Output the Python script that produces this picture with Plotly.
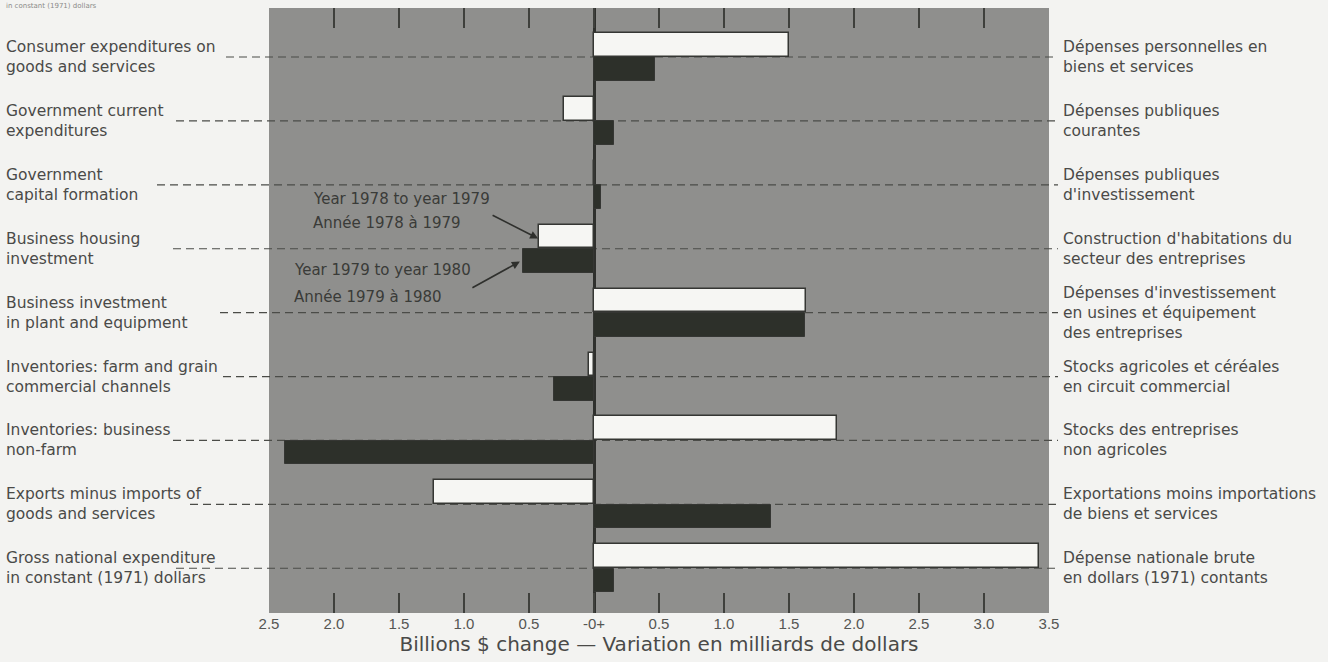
import plotly.graph_objects as go

# ---- data ----
categories_en = [
    "Consumer expenditures on<br>goods and services",
    "Government current<br>expenditures",
    "Government<br>capital formation",
    "Business housing<br>investment",
    "Business investment<br>in plant and equipment",
    "Inventories: farm and grain<br>commercial channels",
    "Inventories: business<br>non-farm",
    "Exports minus imports of<br>goods and services",
    "Gross national expenditure<br>in constant (1971) dollars",
]
categories_fr = [
    "Dépenses personnelles en<br>biens et services",
    "Dépenses publiques<br>courantes",
    "Dépenses publiques<br>d'investissement",
    "Construction d'habitations du<br>secteur des entreprises",
    "Dépenses d'investissement<br>en usines et équipement<br>des entreprises",
    "Stocks agricoles et céréales<br>en circuit commercial",
    "Stocks des entreprises<br>non agricoles",
    "Exportations moins importations<br>de biens et services",
    "Dépense nationale brute<br>en dollars (1971) contants",
]
change_1978_1979 = [1.50, -0.23, 0.01, -0.42, 1.63, -0.04, 1.87, -1.23, 3.42]
change_1979_1980 = [0.47, 0.15, 0.05, -0.55, 1.62, -0.31, -2.38, 1.36, 0.15]
series_names = ["Year 1978 to year 1979<br>Année 1978 à 1979",
                "Year 1979 to year 1980<br>Année 1979 à 1980"]
tick_vals = [-2.5, -2.0, -1.5, -1.0, -0.5, 0, 0.5, 1.0, 1.5, 2.0, 2.5, 3.0, 3.5]
tick_text = ["2.5", "2.0", "1.5", "1.0", "0.5", "-0+", "0.5", "1.0", "1.5", "2.0", "2.5", "3.0", "3.5"]

# ---- style / layout constants ----
W, H = 1328, 662
ML, MR, MT, MB = 269, 279, 8, 49
PW = W - ML - MR
PH = H - MT - MB
GRAY = "#8f8f8d"
DARK = "#2d302a"
WHITE = "#f6f6f3"
EDGE = "#353633"
TEXT = "#4a4a48"
PAGE = "#f3f3f1"
FONT = "DejaVu Sans"
SIDE_SIZE = 15.5
dash_start_px = [226, 176, 157, 173, 220, 223, 173, 190, 176]
dash_end_px = 1058

ycats = list(range(len(categories_en)))

fig = go.Figure()
fig.add_trace(go.Bar(
    y=ycats, x=change_1978_1979, orientation="h", name=series_names[0],
    width=0.37, offset=-0.375,
    marker=dict(color=WHITE, line=dict(color=EDGE, width=1.5)),
    showlegend=False, hoverinfo="x"))
fig.add_trace(go.Bar(
    y=ycats, x=change_1979_1980, orientation="h", name=series_names[1],
    width=0.37, offset=0.005,
    marker=dict(color=DARK, line=dict(color=EDGE, width=1.0)),
    showlegend=False, hoverinfo="x"))

shapes = []
annotations = []
for i, (en, fr) in enumerate(zip(categories_en, categories_fr)):
    x0 = (dash_start_px[i] - ML) / PW
    x1 = (dash_end_px - ML) / PW
    shapes.append(dict(type="line", xref="paper", yref="y", x0=x0, x1=x1, y0=i, y1=i,
                       line=dict(color="#4b4c48", width=1.2, dash="8px,5px"), layer="below"))
    annotations.append(dict(text=en, xref="paper", yref="y", x=(4 - ML) / PW, y=i,
                            xanchor="left", yanchor="middle", align="left", showarrow=False,
                            font=dict(family=FONT, size=SIDE_SIZE, color=TEXT)))
    annotations.append(dict(text=fr, xref="paper", yref="y", x=(1061 - ML) / PW, y=i,
                            xanchor="left", yanchor="middle", align="left", showarrow=False,
                            font=dict(family=FONT, size=SIDE_SIZE, color=TEXT)))

# in-plot series labels
for txt, xx, yy in [("Year 1978 to year 1979", -2.18, 2.22),
                    ("Année 1978 à 1979", -2.18, 2.60),
                    ("Year 1979 to year 1980", -2.32, 3.33),
                    ("Année 1979 à 1980", -2.32, 3.76)]:
    annotations.append(dict(text=txt, xref="x", yref="y", x=xx, y=yy, xanchor="left",
                            yanchor="middle", showarrow=False,
                            font=dict(family=FONT, size=15, color="#3a3b38")))
# arrows
annotations.append(dict(text="", xref="x", yref="y", x=-0.43, y=2.84, ax=-47, ay=-24,
                        showarrow=True, arrowhead=2, arrowsize=1, arrowwidth=1.6,
                        arrowcolor="#2f302d"))
annotations.append(dict(text="", xref="x", yref="y", x=-0.57, y=3.20, ax=-49, ay=27,
                        showarrow=True, arrowhead=2, arrowsize=1, arrowwidth=1.6,
                        arrowcolor="#2f302d"))
# heading fragment at top-left (mostly cropped in the reference)
annotations.append(dict(text="in constant (1971) dollars", xref="paper", yref="paper",
                        x=(4 - ML) / PW, y=1 + MT / PH, xanchor="left", yanchor="top",
                        showarrow=False, font=dict(family=FONT, size=7, color="#8a8a88")))

fig.update_layout(
    width=W, height=H,
    margin=dict(l=ML, r=MR, t=MT, b=MB, pad=0),
    paper_bgcolor=PAGE, plot_bgcolor=GRAY,
    barmode="overlay", bargap=0,
    shapes=shapes, annotations=annotations,
    showlegend=False,
    font=dict(family=FONT, color=TEXT),
    xaxis=dict(range=[-2.5, 3.5], tickvals=tick_vals, ticktext=tick_text,
               ticks="inside", ticklen=20, tickwidth=1.5, tickcolor="#3f403c",
               mirror="ticks", showline=False, showgrid=False,
               zeroline=True, zerolinecolor="#2f302d", zerolinewidth=2.5,
               tickfont=dict(family="Liberation Sans", size=15, color="#555653"),
               title=dict(text="Billions $ change — Variation en milliards de dollars",
                          font=dict(family=FONT, size=20, color=TEXT), standoff=3),
               fixedrange=True),
    yaxis=dict(range=[8.70, -0.767], showticklabels=False, ticks="", showgrid=False,
               zeroline=False, showline=False, fixedrange=True),
)

fig.write_html("out.html", config={"displayModeBar": False},
               post_script="document.body.style.margin='0';")
